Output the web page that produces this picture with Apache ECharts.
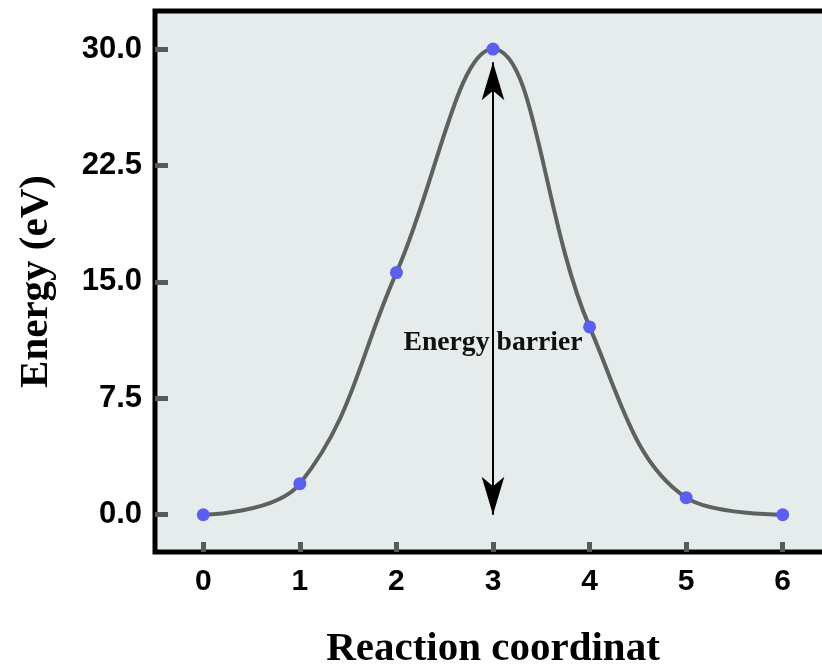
<!DOCTYPE html>
<html>
<head>
<meta charset="utf-8">
<script src="https://cdn.jsdelivr.net/npm/echarts@6/dist/echarts.min.js"></script>
<style>
html,body{margin:0;padding:0;background:#fff;}
#chart{width:822px;height:668px;}
</style>
</head>
<body>
<div id="chart"></div>
<script>
// ---- data ----
const reactionCoordinate = [0, 1, 2, 3, 4, 5, 6];
const energy = [0.0, 2.0, 15.6, 30.0, 12.1, 1.1, 0.0];
const xTickValues = [0, 1, 2, 3, 4, 5, 6];
const yTickValues = [0, 7.5, 15, 22.5, 30];
const barrierX = 3;
const barrierFrom = 0.0;
const barrierTo = 29.15;
const barrierLabelY = 11.1;
const barrierLabel = 'Energy barrier';
const xAxisTitle = 'Reaction coordinat';
const yAxisTitle = 'Energy (eV)';

const points = reactionCoordinate.map((x, i) => [x, energy[i]]);

const chart = echarts.init(document.getElementById('chart'), null, {renderer: 'canvas'});
chart.setOption({
  animation: false,
  backgroundColor: '#ffffff',
  grid: {
    show: true,
    left: 155,
    top: 11,
    width: 676,
    height: 541,
    outerBoundsMode: 'none',
    containLabel: false,
    backgroundColor: '#e6ecec',
    borderColor: '#000000',
    borderWidth: 5,
    z: 0
  },
  xAxis: {
    type: 'value',
    min: -0.5,
    max: 6.5,
    z: 2,
    splitLine: {show: false},
    axisLine: {show: false, onZero: false},
    axisTick: {show: true, inside: true, length: 10, customValues: xTickValues,
      lineStyle: {color: '#555a5a', width: 5}},
    axisLabel: {
      customValues: xTickValues,
      fontFamily: 'Liberation Sans', fontWeight: 'bold', fontSize: 30,
      color: '#000', margin: 15,
      formatter: v => String(v)
    },
    name: xAxisTitle,
    nameLocation: 'middle',
    nameGap: 77,
    nameTextStyle: {fontFamily: 'Liberation Serif', fontWeight: 'bold', fontSize: 41, color: '#000'}
  },
  yAxis: {
    type: 'value',
    min: -2.4,
    max: 32.45,
    z: 2,
    splitLine: {show: false},
    axisLine: {show: false, onZero: false},
    axisTick: {show: true, inside: true, length: 13, customValues: yTickValues,
      lineStyle: {color: '#555a5a', width: 5}},
    axisLabel: {
      customValues: yTickValues,
      fontFamily: 'Liberation Sans', fontWeight: 'bold', fontSize: 31,
      color: '#000', margin: 13,
      formatter: v => v.toFixed(1)
    },
    name: yAxisTitle,
    nameLocation: 'middle',
    nameGap: 98,
    nameTextStyle: {fontFamily: 'Liberation Serif', fontWeight: 'bold', fontSize: 41, color: '#000'}
  },
  series: [{
    type: 'line',
    data: points,
    smooth: 0.4,
    symbol: 'circle',
    symbolSize: 13,
    showSymbol: true,
    lineStyle: {color: '#5d6261', width: 4},
    itemStyle: {color: '#5a5ff0'},
    z: 3,
    markLine: {
      silent: true,
      symbol: ['arrow', 'arrow'],
      symbolSize: [17, 38],
      lineStyle: {color: '#000', width: 2, type: 'solid'},
      label: {show: false},
      data: [[{coord: [barrierX, barrierFrom]}, {coord: [barrierX, barrierTo]}]]
    },
    markPoint: {
      silent: true,
      symbol: 'circle',
      symbolSize: 1,
      itemStyle: {color: 'rgba(0,0,0,0)'},
      label: {
        show: true, position: 'inside',
        formatter: barrierLabel,
        fontFamily: 'Liberation Serif', fontWeight: 'bold', fontSize: 27.7, color: '#111'
      },
      data: [{coord: [barrierX, barrierLabelY]}]
    }
  }]
});
</script>
</body>
</html>
